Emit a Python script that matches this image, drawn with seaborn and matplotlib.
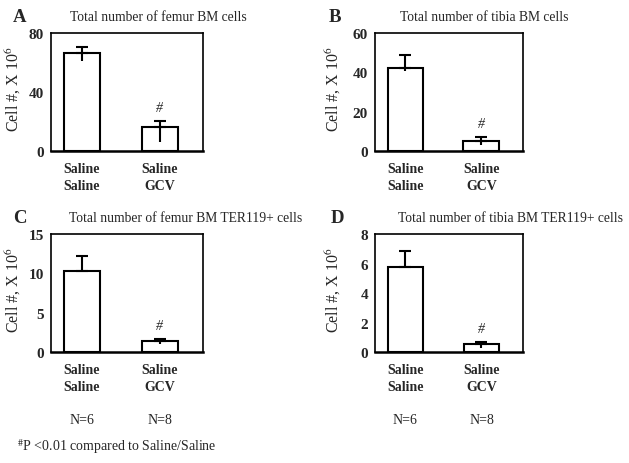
import numpy as np
import pandas as pd
import matplotlib
matplotlib.use('Agg')
import matplotlib.pyplot as plt
import seaborn as sns

# group labels and values
groups = ['Saline\nSaline', 'Saline\nGCV']
n_labels = ['N=6', 'N=8']

femur_total = [66.4, 16.5]
femur_total_up = [4.3, 3.8]
femur_total_down = [5.2, 10.5]

tibia_total = [42.3, 5.1]
tibia_total_up = [6.5, 1.9]
tibia_total_down = [1.5, 2.0]

femur_ter = [10.27, 1.39]
femur_ter_up = [1.93, 0.30]
femur_ter_down = [0.0, 0.34]

tibia_ter = [5.79, 0.56]
tibia_ter_up = [1.04, 0.16]
tibia_ter_down = [0.0, 0.29]

sns.set_style('white')
plt.rcParams['font.family'] = ['Liberation Serif', 'DejaVu Serif']
plt.rcParams['mathtext.fontset'] = 'stix'


def draw_panel(ax, values, err_up, err_down, yticks, title, letter,
               title_x, label_x, letter_dx, show_n):
    df = pd.DataFrame({'group': groups, 'value': values})
    sns.barplot(data=df, x='group', y='value', ax=ax, color='white',
                edgecolor='black', linewidth=1.5, width=0.47, errorbar=None,
                saturation=1)
    xs = np.arange(len(values))
    vals = np.array(values)
    ax.errorbar(xs, vals, yerr=[np.zeros(len(vals)), err_up], fmt='none',
                ecolor='black', elinewidth=1.5, capsize=4, capthick=1.5)
    ax.vlines(xs, vals - np.array(err_down), vals, color='black', lw=1.5)
    ax.set_xlim(-0.4, 1.55)
    ax.set_ylim(yticks[0], yticks[-1])
    ax.set_yticks(yticks)
    ax.set_yticklabels([str(t) for t in yticks], fontweight='bold',
                       fontsize=11)
    ax.set_xticks(xs)
    ax.set_xticklabels(groups, fontweight='bold', fontsize=10,
                       linespacing=1.4)
    ax.tick_params(axis='x', length=0, pad=8)
    ax.tick_params(axis='y', length=0, pad=5)
    ax.set_xlabel('')
    ax.set_ylabel(r'Cell #, X 10$^6$', fontsize=11.5)
    ax.yaxis.set_label_coords(label_x, 0.53)
    for side in ax.spines.values():
        side.set_color('black')
        side.set_linewidth(1.2)
    ax.spines['bottom'].set_linewidth(1.8)
    ax.annotate('#', xy=(1, vals[1] + err_up[1]), xytext=(0, 5),
                textcoords='offset points', ha='center', va='bottom',
                fontsize=10, fontstyle='italic')
    fig = ax.figure
    pos = ax.get_position()
    fig.text(title_x, pos.y1 + 0.036, title, ha='center', va='center',
             fontsize=9.8)
    fig.text(pos.x0 - letter_dx, pos.y1 + 0.036, letter, ha='left',
             va='center', fontsize=13.5, fontweight='bold')
    if show_n:
        for x, lab in zip(xs, n_labels):
            ax.text(x, -0.565, lab, transform=ax.get_xaxis_transform(),
                    ha='center', va='center', fontsize=10)


fig = plt.figure(figsize=(6.29, 4.64), dpi=100)
ax_a = fig.add_axes([0.0806, 0.6724, 0.2417, 0.2543])
ax_b = fig.add_axes([0.5962, 0.6724, 0.2353, 0.2543])
ax_c = fig.add_axes([0.0806, 0.2386, 0.2417, 0.2550])
ax_d = fig.add_axes([0.5962, 0.2386, 0.2358, 0.2550])

draw_panel(ax_a, femur_total, femur_total_up, femur_total_down,
           [0, 40, 80], 'Total number of femur BM cells', 'A', 0.251,
           -0.18, 0.060, False)
draw_panel(ax_b, tibia_total, tibia_total_up, tibia_total_down,
           [0, 20, 40, 60], 'Total number of tibia BM cells', 'B', 0.770,
           -0.216, 0.073, False)
draw_panel(ax_c, femur_ter, femur_ter_up, femur_ter_down,
           [0, 5, 10, 15], 'Total number of femur BM TER119+ cells', 'C',
           0.295, -0.18, 0.060, True)
draw_panel(ax_d, tibia_ter, tibia_ter_up, tibia_ter_down,
           [0, 2, 4, 6, 8], 'Total number of tibia BM TER119+ cells', 'D',
           0.811, -0.216, 0.071, True)

fig.text(0.027, 0.037, r'$^{\#}$P <0.01 compared to Saline/Saline',
         ha='left', va='center', fontsize=10)

fig.savefig('out.png', dpi=100)
